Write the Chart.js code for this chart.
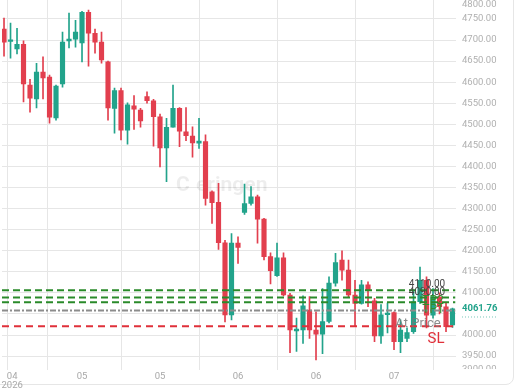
<!DOCTYPE html>
<html>
<head>
<meta charset="utf-8">
<script src="https://cdn.jsdelivr.net/npm/chart.js@4/dist/chart.umd.min.js"></script>
<style>
  html, body { margin: 0; padding: 0; background: #fff; }
  #wrap { position: relative; width: 520px; height: 390px; overflow: hidden; }
  #card { position: absolute; left: -12px; top: -12px; width: 526px; height: 397px;
          border: 1px solid #e6e6e6; border-radius: 8px; box-sizing: border-box; }
  canvas { position: absolute; left: 0; top: 0; }
</style>
</head>
<body>
<div id="wrap">
  <div id="card"></div>
  <canvas id="liveChart" width="520" height="390"></canvas>
</div>
<script>
// daily candles
const opens  = [4726,4697,4679,4690,4593,4560,4624,4612,4515,4596,4698,4702,4693,4766,4716,4695,4648,4538,4580,4486,
                4544,4534,4566,4556,4518,4444,4493,4538,4482,4472,4455,4459,4340,4315,4219,4048,4218,4291,4312,4328,
                4275,4186,4141,4183,4095,4010,4012,4059,4012,4002,4032,4123,4178,4154,4095,4075,4119,4081,3998,4048,
                4053,3984,3992,4008,4079,4130,4047,4090,4067,4024];
const highs  = [4752,4740,4728,4698,4607,4645,4660,4617,4593,4719,4764,4747,4768,4771,4726,4719,4650,4586,4586,4551,
                4568,4538,4577,4559,4524,4514,4593,4540,4540,4494,4514,4475,4342,4360,4225,4241,4233,4358,4352,4332,
                4277,4195,4218,4195,4099,4040,4093,4091,4055,4110,4138,4194,4200,4178,4130,4130,4126,4087,4072,4076,
                4055,4036,4017,4107,4161,4138,4110,4100,4076,4064];
const lows   = [4662,4657,4667,4553,4529,4539,4560,4503,4510,4588,4681,4683,4648,4638,4669,4645,4510,4479,4463,4453,
                4488,4493,4550,4448,4399,4364,4493,4447,4461,4422,4443,4308,4265,4203,4031,4036,4170,4286,4308,4218,
                4178,4121,4139,4093,3958,3961,3980,3992,3941,3956,4029,4116,4130,4091,4020,4073,4067,3984,3980,4005,
                3965,3958,3984,4004,4075,4017,4040,4050,4008,4018];
const closes = [4695,4699,4690,4596,4562,4624,4610,4517,4591,4695,4702,4719,4766,4716,4695,4653,4539,4580,4486,4546,
                4536,4508,4556,4518,4444,4493,4538,4484,4473,4456,4460,4324,4314,4219,4048,4218,4208,4312,4328,4275,
                4186,4153,4183,4095,4012,4014,4069,4012,4002,4032,4123,4172,4154,4095,4075,4119,4107,3998,4048,4052,
                3984,4012,4006,4079,4130,4047,4090,4067,4020,4062];

const xTickPos    = [-0.15, 1.25, 12, 24, 36, 48, 60];
const xTickLabels = ['', ['04', '2026'], '05', '05', '06', '06', '07'];
const yGridVals   = [3950,4000,4050,4100,4150,4200,4250,4300,4350,4400,4450,4500,4550,4600,4650,4700,4750];
const yLabelVals  = [3900,3950,4000,4050,4100,4150,4200,4250,4300,4350,4400,4450,4500,4550,4600,4650,4700,4750,4800];

const tpLevels  = [4106, 4089, 4078];
const entryLevel = 4058;
const slLevel    = 4021;
const lastPrice  = 4061.76;

const xMin = -0.31, xMax = 69.46;
const upColor = '#22a38b';
const downColor = '#e23f4e';

const candleColors = opens.map((o, i) => closes[i] >= o ? upColor : downColor);

function levelLine(v, color, dash) {
  return {
    type: 'line',
    data: [{x: xMin, y: v}, {x: xMax, y: v}],
    borderColor: color,
    borderWidth: 2,
    borderDash: dash,
    pointRadius: 0,
    fill: false,
    order: 0
  };
}

const overlayText = {
  id: 'overlayText',
  beforeDatasetsDraw(chart) {
    const c = chart.ctx;
    c.save();
    c.fillStyle = 'rgba(0,0,0,0.07)';
    c.font = 'bold 21px Roboto';
    c.textBaseline = 'middle';
    c.fillText('C', 176, 186);
    c.fillText('eringen', 196, 186);
    c.restore();
  },
  afterDatasetsDraw(chart) {
    const c = chart.ctx;
    const y = chart.scales.y;
    c.save();
    c.textAlign = 'center';
    c.textBaseline = 'middle';
    c.font = '10px Roboto';
    c.fillStyle = '#444';
    c.fillText('4110.00', 427, y.getPixelForValue(tpLevels[0]) - 6);
    c.fillText('4090.00', 427, y.getPixelForValue(tpLevels[1]) - 5);
    c.font = '12px Roboto';
    c.fillStyle = '#2f8f2f';
    c.fillText('TP2', 433, y.getPixelForValue(tpLevels[2]) - 1);
    c.fillText('TP1', 433, y.getPixelForValue(tpLevels[2]) + 8);
    c.font = '13px Roboto';
    c.fillStyle = 'rgba(120,120,120,0.85)';
    c.fillText('At Price', 418, y.getPixelForValue(entryLevel) + 13);
    c.font = '15px Roboto';
    c.fillStyle = '#e0303a';
    c.fillText('SL', 436, y.getPixelForValue(slLevel) + 13);
    c.restore();
  },
  afterDraw(chart) {
    const c = chart.ctx;
    const y = chart.scales.y;
    const area = chart.chartArea;
    const pricePx = y.getPixelForValue(lastPrice);
    c.save();
    c.beginPath();
    c.rect(area.right, 0, chart.width - area.right, area.bottom - 1);
    c.clip();
    c.font = '9.5px Roboto';
    c.textAlign = 'left';
    c.textBaseline = 'middle';
    c.fillStyle = '#b0b0b0';
    yLabelVals.forEach(v => {
      let py = y.getPixelForValue(v);
      if (py < 5) py = 5;
      if (py > area.bottom) py = area.bottom;
      if (Math.abs(py - pricePx) < 10) return;
      c.fillText(v.toFixed(2), 462, py);
    });
    c.restore();
    c.save();
    c.font = 'bold 9.5px Roboto';
    c.textBaseline = 'middle';
    c.fillStyle = upColor;
    c.fillText(lastPrice.toFixed(2), 462, pricePx);
    c.strokeStyle = 'rgba(34,163,139,0.6)';
    c.setLineDash([1, 2]);
    c.beginPath();
    c.moveTo(462, pricePx + 8);
    c.lineTo(497, pricePx + 8);
    c.stroke();
    c.restore();
  }
};

const ctx = document.getElementById('liveChart').getContext('2d');
const chart = new Chart(ctx, {
  type: 'bar',
  data: {
    datasets: [
      levelLine(tpLevels[0], '#2a8a2a', [7, 4]),
      levelLine(tpLevels[1], '#2a8a2a', [7, 4]),
      levelLine(tpLevels[2], '#2a8a2a', [7, 4]),
      levelLine(entryLevel, '#8c8c8c', [6, 2, 2, 2]),
      levelLine(slLevel, '#e0303a', [7, 5]),
      {
        label: 'wick',
        data: lows.map((l, i) => ({x: i, y: [l, highs[i]]})),
        backgroundColor: candleColors,
        barThickness: 1,
        grouped: false,
        order: 2
      },
      {
        label: 'body',
        data: opens.map((o, i) => ({x: i, y: [o, closes[i]]})),
        backgroundColor: candleColors,
        barThickness: 4.5,
        minBarLength: 1.5,
        grouped: false,
        order: 1
      }
    ]
  },
  options: {
    responsive: false,
    animation: false,
    devicePixelRatio: 1,
    layout: { padding: { left: 2, top: 0, right: 0, bottom: 0 } },
    scales: {
      x: {
        type: 'linear',
        min: xMin,
        max: xMax,
        offset: false,
        border: { display: false },
        grid: { color: '#e6e6e6', drawTicks: false },
        afterBuildTicks: scale => { scale.ticks = xTickPos.map(v => ({value: v})); },
        afterFit: scale => { scale.height = 20; },
        ticks: {
          autoSkip: false,
          maxRotation: 0,
          padding: 2,
          color: '#a8a8a8',
          font: { family: 'Roboto', size: 9.5, lineHeight: 0.95 },
          callback: (value, index) => xTickLabels[index]
        }
      },
      y: {
        position: 'right',
        min: 3917,
        max: 4795,
        border: { display: false },
        grid: { color: '#e6e6e6', drawTicks: false },
        afterBuildTicks: scale => { scale.ticks = yGridVals.map(v => ({value: v})); },
        afterFit: scale => { scale.width = 64.5; },
        ticks: { display: false }
      }
    },
    plugins: {
      legend: { display: false },
      tooltip: { enabled: false }
    }
  },
  plugins: [overlayText]
});
</script>
</body>
</html>
